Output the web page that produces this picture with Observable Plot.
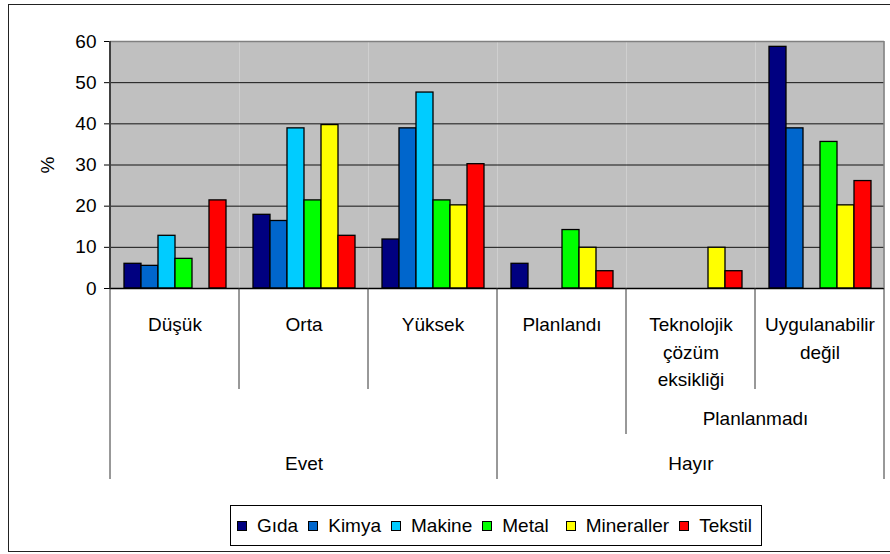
<!DOCTYPE html>
<html>
<head>
<meta charset="utf-8">
<script src="https://cdn.jsdelivr.net/npm/d3@7"></script>
<script src="https://cdn.jsdelivr.net/npm/@observablehq/plot@0.6"></script>
<style>
  html, body { margin: 0; padding: 0; background: #fff; overflow: hidden; }
  #wrap { position: relative; width: 890px; height: 554px; font-family: "Liberation Sans", Arial, sans-serif; color: #000; }
  #border { position: absolute; left: 8px; top: 4px; width: 900px; height: 548px; border: 1px solid #222; box-sizing: border-box; pointer-events: none; }
  #chart { position: absolute; left: 0; top: 0; }
  #legend { position: absolute; left: 230px; top: 505px; width: 532px; height: 41px; border: 1px solid #000; box-sizing: border-box; background: #fff;
            display: flex; align-items: center; padding-left: 6px; font-size: 19px; white-space: nowrap; }
  .item { display: flex; align-items: center; margin-right: 10px; }
  .sw { width: 10px; height: 10px; border: 1px solid #000; box-sizing: border-box; margin-right: 10px; }
</style>
</head>
<body>
<div id="wrap">
  <div id="chart"></div>
  <div id="legend"></div>
  <div id="border"></div>
</div>
<script>
// ---- data ----
const categories = ["Düşük", "Orta", "Yüksek", "Planlandı", "Teknolojik çözüm eksikliği", "Uygulanabilir değil"];
const categoryLabels = ["Düşük", "Orta", "Yüksek", "Planlandı", "Teknolojik\nçözüm\neksikliği", "Uygulanabilir\ndeğil"];
const series = ["Gıda", "Kimya", "Makine", "Metal", "Mineraller", "Tekstil"];
const colors = ["#000080", "#0066CC", "#00CCFF", "#00FF00", "#FFFF00", "#FF0000"];

const gida       = [6.0, 17.9, 11.9, 6.0, 0, 58.7];
const kimya      = [5.5, 16.4, 38.9, 0, 0, 38.9];
const makine     = [12.8, 38.9, 47.6, 0, 0, 0];
const metal      = [7.2, 21.4, 21.4, 14.2, 0, 35.6];
const mineraller = [0, 39.7, 20.2, 9.9, 9.9, 20.2];
const tekstil    = [21.4, 12.8, 30.2, 4.2, 4.2, 26.1];

const yTicks = [0, 10, 20, 30, 40, 50, 60];

// hierarchy of the category axis
const level2Groups = [{label: "Planlanmadı", from: 4, to: 5}];
const level1Groups = [{label: "Evet", from: 0, to: 2}, {label: "Hayır", from: 3, to: 5}];

// ---- tables ----
const seriesValues = [gida, kimya, makine, metal, mineraller, tekstil];
const rows = [];
series.forEach((s, si) => categories.forEach((c, ci) => rows.push({category: c, series: s, value: seriesValues[si][ci]})));

const level3 = categories.map((c, i) => ({category: c, label: categoryLabels[i]}));
function spanLabels(groups) {
  return groups.map(g => {
    const n = g.to - g.from + 1;
    const odd = n % 2 === 1;
    const idx = odd ? g.from + (n - 1) / 2 : g.from + n / 2;
    return {category: categories[idx], label: g.label, odd};
  });
}
const spans = [...spanLabels(level2Groups).map(d => ({...d, dy: 130})), ...spanLabels(level1Groups).map(d => ({...d, dy: 175}))];

const FONT = '"Liberation Sans", Arial, sans-serif';

const spanMarks = [];
for (const dy of [130, 175]) {
  spanMarks.push(Plot.text(spans.filter(d => d.dy === dy && d.odd), {fx: "category", text: "label", frameAnchor: "bottom", lineAnchor: "middle", dy}));
  spanMarks.push(Plot.text(spans.filter(d => d.dy === dy && !d.odd), {fx: "category", text: "label", frameAnchor: "bottom-left", textAnchor: "middle", lineAnchor: "middle", dy}));
}

const plot = Plot.plot({
  width: 890,
  height: 500,
  marginTop: 41,
  marginBottom: 212,
  marginLeft: 110,
  marginRight: 6,
  style: {fontFamily: FONT, fontSize: "19px", color: "#000", background: "transparent", overflow: "visible"},
  fx: {domain: categories, padding: 0, axis: null},
  x: {domain: series, paddingInner: 0, paddingOuter: 0.75, axis: null},
  y: {domain: [0, 60], axis: null},
  color: {domain: series, range: colors},
  marks: [
    Plot.frame({fill: "#C0C0C0"}),
    Plot.gridY(yTicks.filter(t => t > 0 && t < 60), {stroke: "#000", strokeOpacity: 0.9}),
    Plot.ruleY([60], {stroke: "#808080", strokeWidth: 1.5}),
    Plot.barY(rows.filter(d => d.value > 0), {fx: "category", x: "series", y: "value", fill: "series", stroke: "#000", strokeWidth: 1.3}),
    Plot.ruleY([0], {stroke: "#000", strokeWidth: 1.5}),
    Plot.axisY({ticks: yTicks, tickSize: 6, tickPadding: 8, label: "%", labelAnchor: "center", labelOffset: 70, labelArrow: "none"}),
    Plot.text(level3, {fx: "category", text: "label", frameAnchor: "bottom", lineAnchor: "top", dy: 23, lineHeight: 1.45}),
    ...spanMarks
  ]
});

document.getElementById("chart").appendChild(plot);

// ---- category axis separators, positioned with Plot's fx scale ----
const fx = plot.scale("fx");
const yScale = plot.scale("y");
const y0 = yScale.apply(0), yTop = yScale.apply(60);
const depth = {3: 101, 2: 146, 1: 191};
function groupOf(groups, i) { const g = groups.find(g => i >= g.from && i <= g.to); return g ? g.label : null; }
const bounds = [];
for (let i = 0; i <= categories.length; i++) {
  const x = i < categories.length ? fx.apply(categories[i]) : fx.apply(categories[i - 1]) + fx.bandwidth;
  let d;
  if (i === 0 || i === categories.length || groupOf(level1Groups, i - 1) !== groupOf(level1Groups, i)) d = depth[1];
  else if (groupOf(level2Groups, i - 1) !== groupOf(level2Groups, i)) d = depth[2];
  else d = depth[3];
  bounds.push({x, d});
}
const g = d3.select(plot).append("g").attr("class", "separators");
g.selectAll("line.sep").data(bounds).join("line").attr("class", "sep")
  .attr("x1", d => d.x).attr("x2", d => d.x)
  .attr("y1", y0).attr("y2", d => y0 + d.d)
  .attr("stroke", "#333").attr("stroke-width", 1);
g.append("line").attr("x1", bounds[0].x).attr("x2", bounds[0].x).attr("y1", yTop).attr("y2", y0)
  .attr("stroke", "#404040").attr("stroke-width", 2);
g.append("line").attr("x1", bounds[bounds.length - 1].x).attr("x2", bounds[bounds.length - 1].x).attr("y1", yTop).attr("y2", y0)
  .attr("stroke", "#808080").attr("stroke-width", 1.5);

// ---- legend ----
const color = plot.scale("color");
const legend = d3.select("#legend");
series.forEach((s) => {
  const item = legend.append("div").attr("class", "item");
  if (s === "Mineraller") item.style("margin-left", "7px");
  item.append("div").attr("class", "sw").style("background", color.apply(s));
  item.append("span").text(s);
});
</script>
</body>
</html>
